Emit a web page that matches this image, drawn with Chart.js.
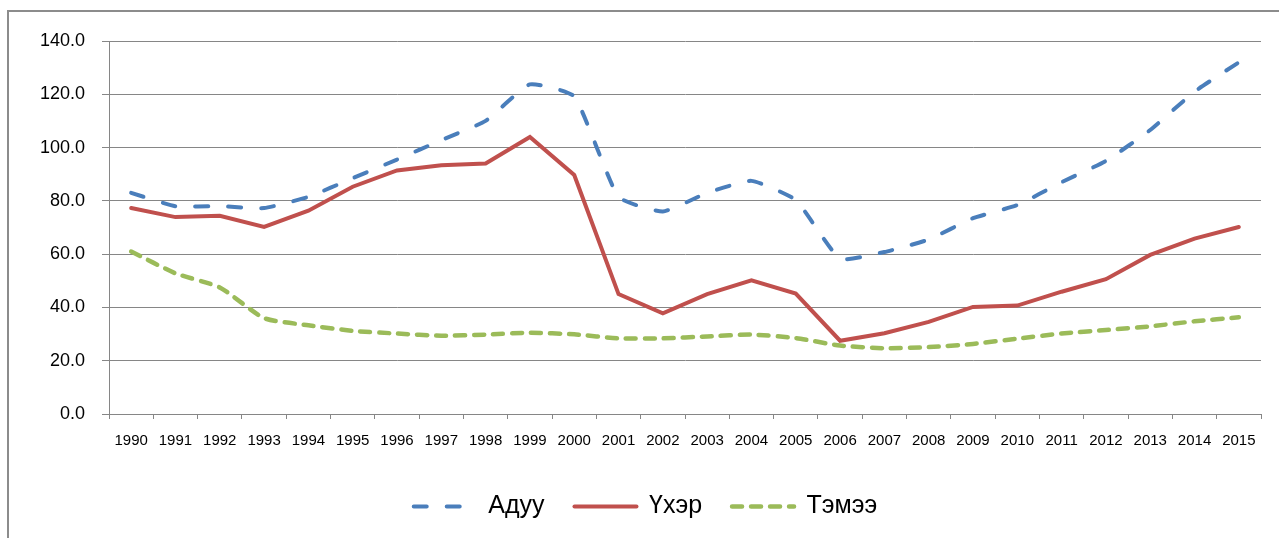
<!DOCTYPE html>
<html>
<head>
<meta charset="utf-8">
<script src="https://cdn.jsdelivr.net/npm/chart.js@4.4.1/dist/chart.umd.min.js"></script>
<style>
    html, body { margin: 0; padding: 0; background: #fff; overflow: hidden; }
    #wrap { position: relative; width: 1279px; height: 538px; }
    #frame { position: absolute; left: 7px; top: 10px; width: 1300px; height: 600px; border: 2px solid #8c8c8c; box-sizing: border-box; }
    #chart { position: absolute; left: 0; top: 0; }
</style>
</head>
<body>
<div id="wrap">
    <div id="frame"></div>
    <canvas id="chart" width="1279" height="538"></canvas>
</div>
<script>
const years = ['1990', '1991', '1992', '1993', '1994', '1995', '1996', '1997', '1998', '1999', '2000',
    '2001', '2002', '2003', '2004', '2005', '2006', '2007', '2008', '2009', '2010',
    '2011', '2012', '2013', '2014', '2015'];
const aduu = [83.0, 78.0, 78.0, 77.3, 81.5, 88.5, 95.5, 102.8, 110.0, 123.7, 119.2,
    81.5, 76.0, 83.0, 87.5, 80.3, 58.3, 60.8, 65.5, 73.5, 78.4,
    87.0, 95.0, 106.6, 121.0, 132.0];
const uher = [77.3, 73.9, 74.4, 70.2, 76.3, 85.3, 91.4, 93.4, 94.0, 104.0, 89.7,
    45.0, 37.8, 45.0, 50.2, 45.2, 27.5, 30.3, 34.6, 40.2, 40.7,
    45.9, 50.6, 59.7, 65.8, 70.2];
const temee = [61.0, 52.8, 47.5, 36.0, 33.3, 31.2, 30.2, 29.4, 29.8, 30.5, 29.9,
    28.4, 28.4, 29.1, 29.8, 28.5, 25.7, 24.7, 25.1, 26.3, 28.3,
    30.2, 31.5, 32.9, 34.8, 36.3];
const seriesNames = ['Адуу', 'Үхэр', 'Тэмээ'];

document.addEventListener('DOMContentLoaded', function() {
    const ctx = document.getElementById('chart').getContext('2d');
    const gridColor = '#868686';

    new Chart(ctx, {
        type: 'line',
        data: {
            labels: years,
            datasets: [{
                label: seriesNames[0],
                data: aduu,
                borderColor: '#4a7ebb',
                borderWidth: 4,
                borderDash: [13, 20],
                borderCapStyle: 'round',
                tension: 0.15,
                pointRadius: 0
            }, {
                label: seriesNames[1],
                data: uher,
                borderColor: '#c0504d',
                borderWidth: 4,
                borderCapStyle: 'round',
                tension: 0,
                pointRadius: 0
            }, {
                label: seriesNames[2],
                data: temee,
                borderColor: '#9bbb59',
                borderWidth: 4.5,
                borderDash: [10, 9],
                borderCapStyle: 'round',
                tension: 0.2,
                pointRadius: 0
            }]
        },
        options: {
            responsive: false,
            animation: false,
            layout: {
                padding: { top: 41, left: 30, right: 18, bottom: 9 }
            },
            scales: {
                x: {
                    offset: true,
                    afterFit: function(scale) { scale.height = 50; },
                    grid: {
                        offset: true,
                        drawOnChartArea: false,
                        tickLength: 5,
                        color: gridColor
                    },
                    border: { color: gridColor, width: 1 },
                    ticks: {
                        padding: 13,
                        maxRotation: 0,
                        autoSkip: false,
                        color: '#000',
                        font: { family: 'Liberation Sans', size: 15 }
                    }
                },
                y: {
                    min: 0,
                    max: 140,
                    // layout padding left is 30, so the plot still starts at x=109
                    afterFit: function(scale) { scale.width = 79; },
                    grid: {
                        tickLength: 7,
                        color: gridColor
                    },
                    border: { color: gridColor, width: 1 },
                    ticks: {
                        stepSize: 20,
                        padding: 17,
                        color: '#000',
                        font: { family: 'Liberation Sans', size: 18 },
                        callback: function(v) { return v.toFixed(1); }
                    }
                }
            },
            plugins: {
                legend: {
                    position: 'bottom',
                    labels: {
                        usePointStyle: true,
                        pointStyle: 'line',
                        pointStyleWidth: 62,
                        padding: 30,
                        color: '#000',
                        font: { family: 'Liberation Sans', size: 25 },
                        // default labels lose the dash when usePointStyle is on
                        generateLabels: function(chart) {
                            const items = Chart.defaults.plugins.legend.labels.generateLabels(chart);
                            items.forEach(function(item) {
                                const ds = chart.data.datasets[item.datasetIndex];
                                item.lineDash = ds.borderDash || [];
                                item.lineCap = 'round';
                                item.lineWidth = ds.borderWidth;
                                item.strokeStyle = ds.borderColor;
                            });
                            return items;
                        }
                    }
                },
                tooltip: { enabled: false }
            }
        }
    });
});
</script>
</body>
</html>
